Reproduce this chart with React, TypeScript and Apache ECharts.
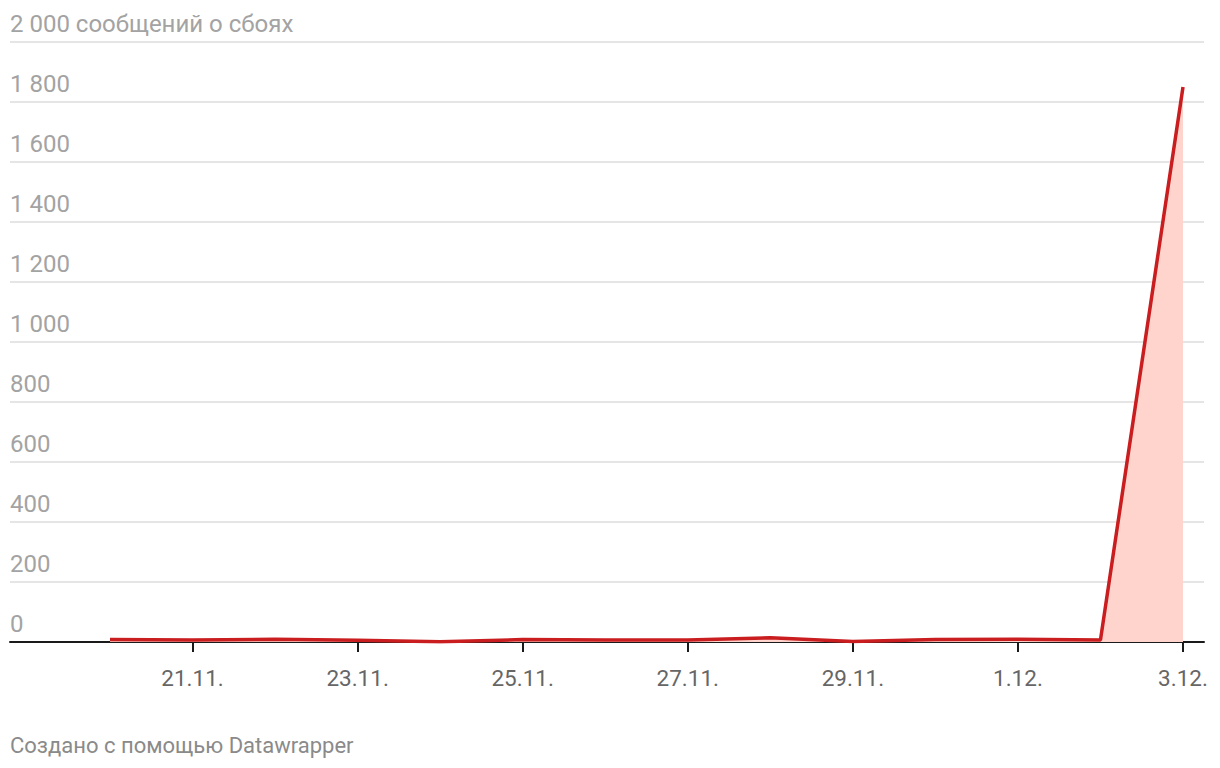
import React, { useEffect, useRef } from "react";
import * as echarts from "echarts";

const dates = ["20.11.", "21.11.", "22.11.", "23.11.", "24.11.", "25.11.", "26.11.", "27.11.", "28.11.", "29.11.", "30.11.", "1.12.", "2.12.", "3.12."];
const reports = [8, 7, 9, 6, 1, 8, 7, 7, 14, 2, 8, 9, 7, 1850];
const labelledIdx = [1, 3, 5, 7, 9, 11, 13];
const yTicks = [0, 200, 400, 600, 800, 1000, 1200, 1400, 1600, 1800, 2000];
const unitLabel = "сообщений о сбоях";
const footer = "Создано с помощью Datawrapper";

const fmt = (v: number) => String(v).replace(/\B(?=(\d{3})+(?!\d))/g, " ");

export default function App() {
  const ref = useRef<HTMLDivElement>(null);
  useEffect(() => {
    document.body.style.margin = "0";
    const chart = echarts.init(ref.current!, null, { renderer: "svg" });
    const pxPerUnit = 1073 / 13;
    const font = "Roboto";
    chart.setOption({
      animation: false,
      textStyle: { fontFamily: font },
      title: {
        text: footer,
        left: 10,
        top: 734,
        padding: 0,
        textStyle: { fontFamily: font, fontSize: 22, fontWeight: "normal", color: "#8a8a8a" },
      },
      grid: { left: 10, right: 16, top: 42, bottom: 126, containLabel: false },
      xAxis: {
        type: "value",
        min: -100 / pxPerUnit,
        max: 13 + 21 / pxPerUnit,
        splitLine: { show: false },
        axisLine: { show: true, lineStyle: { color: "#1a1a1a", width: 2 } },
        axisTick: { show: true, customValues: labelledIdx, length: 10, lineStyle: { color: "#1a1a1a", width: 2 } },
        axisLabel: {
          customValues: labelledIdx,
          formatter: (v: number) => dates[Math.round(v)] ?? "",
          fontSize: 22.5,
          color: "#666666",
          margin: 24,
          fontFamily: font,
        },
      },
      yAxis: {
        type: "value",
        min: yTicks[0],
        max: yTicks[yTicks.length - 1],
        interval: 200,
        axisLine: { show: false },
        axisTick: { show: false },
        splitLine: { lineStyle: { color: "#e5e5e5", width: 2 } },
        axisLabel: {
          inside: true,
          align: "left",
          verticalAlign: "bottom",
          margin: 0,
          padding: [0, 0, 6, 0],
          fontSize: 24,
          color: "#a3a3a3",
          fontFamily: font,
          formatter: (v: number) => (v === yTicks[yTicks.length - 1] ? `${fmt(v)} ${unitLabel}` : fmt(v)),
        },
        z: 0,
      },
      series: [
        {
          type: "line",
          data: dates.map((_, i) => [i, reports[i]]),
          symbol: "none",
          lineStyle: { color: "#c91d1f", width: 3.5 },
          areaStyle: { color: "#ffd4cc", opacity: 1 },
          z: 3,
        },
      ],
    });
    return () => chart.dispose();
  }, []);
  return <div ref={ref} style={{ width: 1220, height: 768 }} />;
}
